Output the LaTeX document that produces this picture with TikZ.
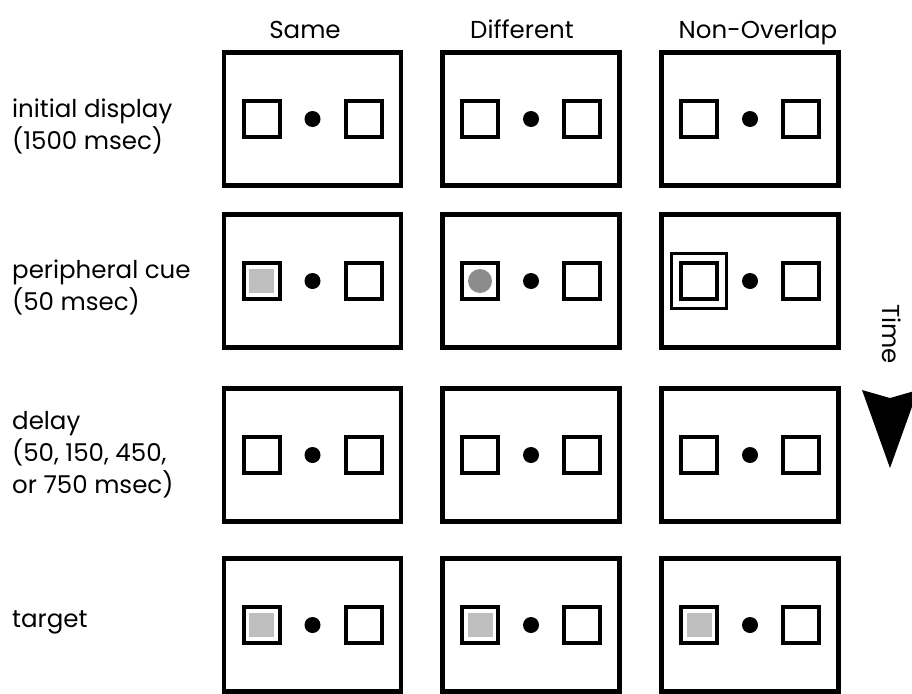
\documentclass[tikz,border=0pt]{standalone}
\usepackage{fontspec}
\setmainfont{Poppins}
\begin{document}
\begin{tikzpicture}[x=1pt,y=-1pt,
  lbl/.style={font=\fontsize{24.5}{32}\selectfont,inner sep=0pt},
  screen/.style={draw,line width=4.4pt,minimum width=177pt,minimum height=133pt,inner sep=0pt},
  placeholder/.style={draw,line width=4pt,minimum size=36pt,inner sep=0pt},
  fixdot/.style={circle,fill=black,minimum size=16pt,inner sep=0pt},
  greysq/.style={fill=black!25,minimum width=25pt,minimum height=24pt,inner sep=0pt},
  greydisc/.style={circle,fill=black!45,minimum size=24pt,inner sep=0pt},
  bigsq/.style={draw,line width=3.8pt,minimum size=55pt,inner sep=0pt}]
\useasboundingbox (0,0) rectangle (912,693);
\clip (0,0) rectangle (912,693);

% column headings
\node[lbl,anchor=base] (hsame) at (305,38) {Same};
\node[lbl,anchor=base] (hdiff) at (522,38) {Different};
\node[lbl,anchor=base] (hnon)  at (758,38) {Non-Overlap};

% row labels
\node[lbl,anchor=west,align=left] (linit)  at (12,126) {initial display\\(1500 msec)};
\node[lbl,anchor=west,align=left] (lcue)   at (12,287) {peripheral cue\\(50 msec)};
\node[lbl,anchor=west,align=left] (ldelay) at (12,455) {delay\\(50, 150, 450,\\or 750 msec)};
\node[lbl,anchor=west,align=left] (ltgt)   at (12,622) {target};

% display frames: fixation dot with a placeholder box on each side
\foreach \c/\cx in {1/312.5,2/531,3/750}{
  \foreach \r/\ry in {1/119,2/281,3/455,4/625}{
    \node[screen] (f\r\c) at (\cx,\ry) {};
    \node[fixdot] (d\r\c) at (f\r\c.center) {};
    \node[placeholder] (l\r\c) at ([xshift=-51pt]f\r\c.center) {};
    \node[placeholder] (r\r\c) at ([xshift=51pt]f\r\c.center) {};
  }
}

% peripheral cues
\node[greysq] (cue1) at (l21.center) {};
\node[greydisc] (cue2) at (l22.center) {};
\node[bigsq] (cue3) at (l23.center) {};

% targets
\foreach \c in {1,2,3}{
  \node[greysq] (t\c) at (l4\c.center) {};
}

% time axis
\node[lbl,rotate=-90] (time) at (892,334) {Time};
\fill (862,390) -- (890,398) -- (918,390) -- (890,468) -- cycle;
\end{tikzpicture}
\end{document}
